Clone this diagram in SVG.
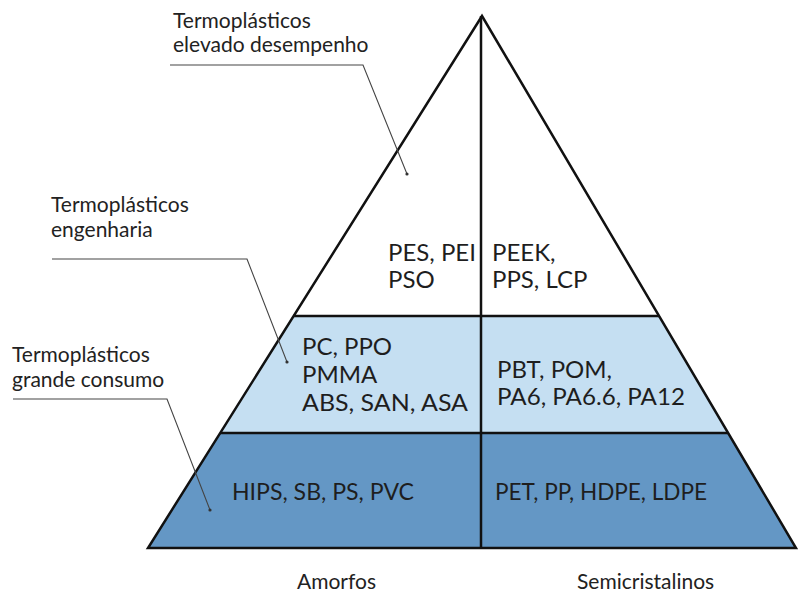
<svg xmlns="http://www.w3.org/2000/svg" width="798" height="598" viewBox="0 0 798 598">
<style>
.lbl{font-family:Lato,"Noto Sans","Liberation Sans",sans-serif;font-size:21px;fill:#222}
.pt{font-family:Lato,"Noto Sans","Liberation Sans",sans-serif;font-size:24px;fill:#1e1e1e}
.edge{fill:none;stroke:#111;stroke-width:2.5;stroke-linejoin:miter}
.lead{fill:none;stroke:#444;stroke-width:1.1}
.dot{fill:#333}
</style>
<rect width="798" height="598" fill="#fff"/>
<g id="pyramid">
<polygon points="482,16 293,316 659,316" fill="#fff"/>
<polygon points="293,316 659,316 728,433 220,433" fill="#c5dff2"/>
<polygon points="220,433 728,433 796,548 148,548" fill="#6497c5"/>
<polygon class="edge" points="482,16 148,548 796,548"/>
<line class="edge" x1="293" y1="316" x2="659" y2="316"/>
<line class="edge" x1="220" y1="433" x2="728" y2="433"/>
<line class="edge" x1="481" y1="16" x2="481" y2="548"/>
</g>
<g id="node-top-left"><text class="pt" x="388" y="261">PES, PEI</text><text class="pt" x="388" y="288">PSO</text></g>
<g id="node-top-right"><text class="pt" x="492" y="261">PEEK,</text><text class="pt" x="492" y="288">PPS, LCP</text></g>
<g id="node-mid-left"><text class="pt" x="302" y="355">PC, PPO</text><text class="pt" x="302" y="383">PMMA</text><text class="pt" x="302" y="411" textLength="166" lengthAdjust="spacingAndGlyphs">ABS, SAN, ASA</text></g>
<g id="node-mid-right"><text class="pt" x="497" y="378">PBT, POM,</text><text class="pt" x="497" y="405" textLength="188" lengthAdjust="spacingAndGlyphs">PA6, PA6.6, PA12</text></g>
<g id="node-bot-left"><text class="pt" x="232" y="500" textLength="182" lengthAdjust="spacingAndGlyphs">HIPS, SB, PS, PVC</text></g>
<g id="node-bot-right"><text class="pt" x="495" y="500" textLength="212" lengthAdjust="spacingAndGlyphs">PET, PP, HDPE, LDPE</text></g>
<g id="label-elevado"><text class="lbl" x="173" y="28">Termoplásticos</text><text class="lbl" x="173" y="52">elevado desempenho</text></g>
<g id="label-engenharia"><text class="lbl" x="51" y="212">Termoplásticos</text><text class="lbl" x="51" y="237">engenharia</text></g>
<g id="label-consumo"><text class="lbl" x="12" y="362">Termoplásticos</text><text class="lbl" x="12" y="387">grande consumo</text></g>
<g id="label-amorfos"><text class="lbl" x="297" y="589">Amorfos</text></g>
<g id="label-semi"><text class="lbl" x="577" y="589">Semicristalinos</text></g>
<g id="connectors">
<polyline class="lead" points="170,65 363,65 407,174"/><circle class="dot" cx="407" cy="174" r="1.6"/>
<polyline class="lead" points="52,259 247,259 287,362"/><circle class="dot" cx="287" cy="362" r="1.6"/>
<polyline class="lead" points="13,399 167,399 210,510"/><circle class="dot" cx="210" cy="510" r="1.6"/>
</g>
</svg>
